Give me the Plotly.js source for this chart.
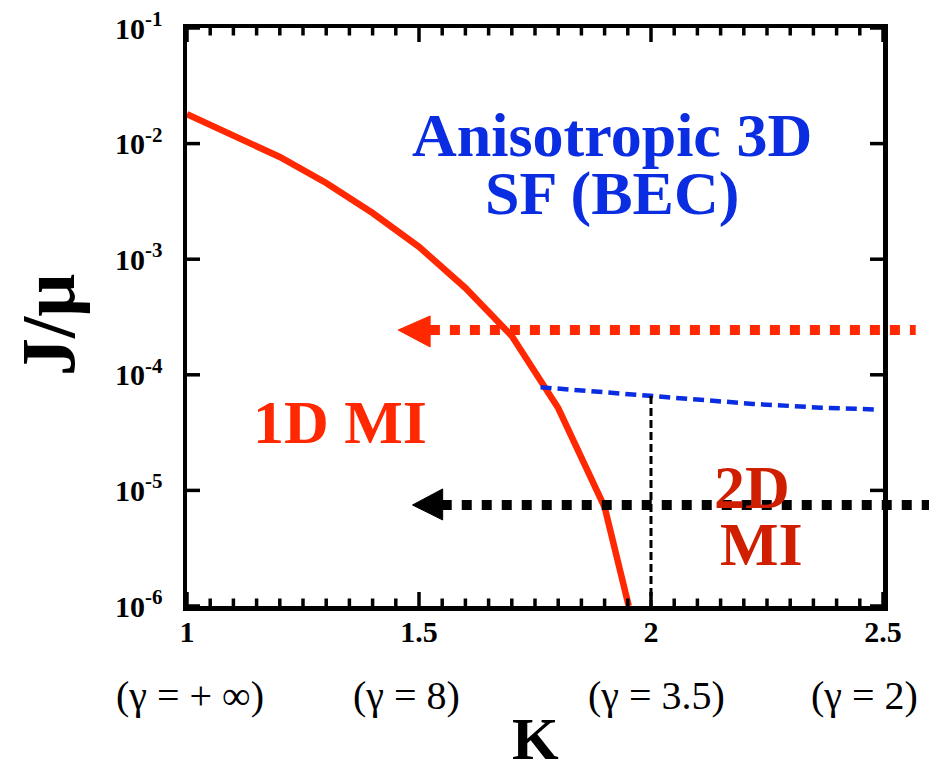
<!DOCTYPE html>
<html>
<head>
<meta charset="utf-8">
<script src="https://cdn.plot.ly/plotly-3.0.1.min.js"></script>
<style>html,body{margin:0;padding:0;background:#fff;}#chart{width:929px;height:764px;}</style>
</head>
<body>
<div id="chart"></div>
<script>
// ---- data ----
const boundary1D_K = [1.0, 1.2, 1.3, 1.4, 1.5, 1.6, 1.7, 1.8, 1.9, 1.952];
const boundary1D_J = [0.0180, 0.00766, 0.00456, 0.00251, 0.00128, 5.64e-4, 2.17e-4, 5.16e-5, 7.18e-6, 1.0e-6];

const boundary3D_K = [1.762, 2.0, 2.22, 2.366, 2.49];
const boundary3D_J = [7.8e-5, 6.56e-5, 5.6e-5, 5.2e-5, 5.0e-5];

const markerK = [2.0, 2.0];
const markerJ = [6.56e-5, 1.0e-6];

// arrow heads (tip, base upper, base lower)
const redHeadK = [1.455, 1.524, 1.524, 1.455];
const redHeadJ = [2.44e-4, 3.23e-4, 1.74e-4, 2.44e-4];
const blackHeadK = [1.486, 1.551, 1.551, 1.486];
const blackHeadJ = [7.48e-6, 1.03e-5, 5.55e-6, 7.48e-6];
const redArrowJ = 2.44e-4;
const blackArrowJ = 7.48e-6;

const xTickVals = [1, 1.5, 2, 2.5];
const xTickText = ['1', '1.5', '2', '2.5'];
const xMinorStep = 0.05;
const yTickVals = [1e-6, 1e-5, 1e-4, 1e-3, 1e-2, 1e-1];
const yTickText = ['10<sup>-6</sup>', '10<sup>-5</sup>', '10<sup>-4</sup>', '10<sup>-3</sup>', '10<sup>-2</sup>', '10<sup>-1</sup>'];
const gammaLabels = ['(γ = + ∞)', '(γ = 8)', '(γ = 3.5)', '(γ = 2)'];
const gammaX = [0.004, 0.315, 0.675, 0.973];

const RED = 'rgb(255,40,0)';
const DARKRED = 'rgb(208,30,0)';
const BLUE = 'rgb(10,45,225)';
const SERIF = 'Liberation Serif, Times New Roman, serif';

const traces = [
  {x: boundary1D_K, y: boundary1D_J, mode: 'lines', line: {color: RED, width: 6.5}, hoverinfo: 'skip'},
  {x: boundary3D_K, y: boundary3D_J, mode: 'lines', line: {color: BLUE, width: 4.5, dash: '11px,6px'}, hoverinfo: 'skip'},
  {x: markerK, y: markerJ, mode: 'lines', line: {color: 'black', width: 3, dash: '8px,4px'}, hoverinfo: 'skip'},
  {x: redHeadK, y: redHeadJ, mode: 'lines', fill: 'toself', fillcolor: RED, line: {color: RED, width: 1}, hoverinfo: 'skip'},
  {x: blackHeadK, y: blackHeadJ, mode: 'lines', fill: 'toself', fillcolor: 'black', line: {color: 'black', width: 1}, hoverinfo: 'skip'}
];

const ann = [];
function addText(text, x, y, font, extra) {
  ann.push(Object.assign({text: text, xref: 'paper', yref: 'paper', x: x, y: y,
    xanchor: 'center', yanchor: 'middle', showarrow: false, font: font}, extra || {}));
}
const big = (c) => ({family: SERIF, size: 62, weight: 'bold', color: c});
addText('Anisotropic 3D', 0.611, 0.815, big(BLUE));
addText('SF (BEC)', 0.611, 0.7145, big(BLUE));
addText('1D MI', 0.22, 0.318, big(RED));
addText('2D', 0.812, 0.206, big(DARKRED));
addText('MI', 0.826, 0.107, big(DARKRED));
addText('K', 0.5, -0.23, {family: SERIF, size: 60, weight: 'bold', color: 'black'});
addText('J/μ', -0.2, 0.486, {family: SERIF, size: 76, weight: 'bold', color: 'black'}, {textangle: -90});
gammaLabels.forEach((t, i) => addText(t, gammaX[i], -0.154, {family: SERIF, size: 40, color: 'black'}));

const shapes = [
  {type: 'line', xref: 'paper', yref: 'y', x0: 0.349, x1: 1.047, y0: redArrowJ, y1: redArrowJ, line: {color: RED, width: 10, dash: '10px,10px'}},
  {type: 'line', xref: 'paper', yref: 'y', x0: 0.366, x1: 1.07, y0: blackArrowJ, y1: blackArrowJ, line: {color: 'black', width: 10, dash: '10px,10px'}}
];

// inward tick marks on all four sides (plot area is 696 x 578 px)
const tickLine = {color: 'black', width: 3.5};
const nMinor = Math.round((xTickVals[xTickVals.length - 1] - xTickVals[0]) / xMinorStep);
for (let i = 0; i <= nMinor; i++) {
  const k = +(xTickVals[0] + i * xMinorStep).toFixed(4);
  const isMajor = xTickVals.some(v => Math.abs(v - k) < 1e-9);
  const len = (isMajor ? 14 : 7.5) / 578;
  shapes.push({type: 'line', xref: 'x', yref: 'paper', x0: k, x1: k, y0: 0, y1: len, line: tickLine});
  shapes.push({type: 'line', xref: 'x', yref: 'paper', x0: k, x1: k, y0: 1, y1: 1 - len, line: tickLine});
}
yTickVals.forEach(v => {
  const len = 13 / 696;
  shapes.push({type: 'line', xref: 'paper', yref: 'y', x0: 0, x1: len, y0: v, y1: v, line: tickLine});
  shapes.push({type: 'line', xref: 'paper', yref: 'y', x0: 1, x1: 1 - len, y0: v, y1: v, line: tickLine});
});

const axisCommon = {
  showline: true, linecolor: 'black', linewidth: 4.5, mirror: true,
  ticks: '', showgrid: false, zeroline: false,
  tickfont: {family: SERIF, size: 30, weight: 'bold', color: 'black'}
};

const layout = {
  width: 929, height: 764,
  margin: {l: 187, r: 46, t: 28, b: 158},
  paper_bgcolor: 'white', plot_bgcolor: 'white',
  showlegend: false,
  xaxis: Object.assign({}, axisCommon, {
    range: [xTickVals[0], xTickVals[xTickVals.length - 1]],
    tickmode: 'array', tickvals: xTickVals, ticktext: xTickText, ticklabelstandoff: -5
  }),
  yaxis: Object.assign({}, axisCommon, {
    type: 'log', range: [-6, -1], tickmode: 'array', tickvals: yTickVals, ticktext: yTickText,
    ticklabelstandoff: 14
  }),
  annotations: ann,
  shapes: shapes
};

Plotly.newPlot('chart', traces, layout, {staticPlot: true, displayModeBar: false});
</script>
</body>
</html>
